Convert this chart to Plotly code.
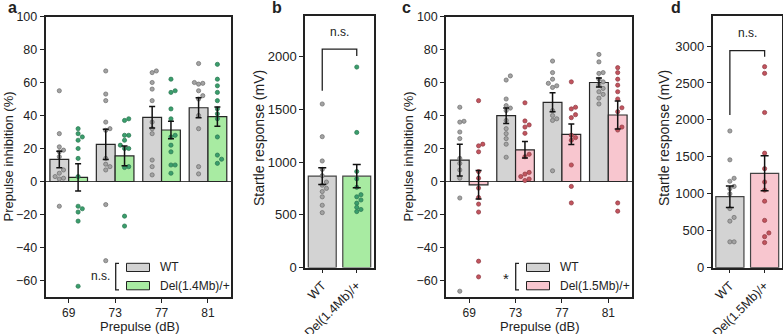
import plotly.graph_objects as go

W, H = 783, 334
FONT = "Liberation Sans, Arial, sans-serif"


def px(x):
    return x / W


def py(y):
    return 1 - y / H


# ---------------- data ----------------
prepulse = ["69", "73", "77", "81"]
geno_a = ["WT", "Del(1.4Mb)/+"]
geno_c = ["WT", "Del(1.5Mb)/+"]

# panel a : prepulse inhibition (%)
a_wt_mean = [13.4, 22.5, 38.9, 44.7]
a_wt_sem = [5.0, 9.2, 6.5, 6.0]
a_del_mean = [2.5, 15.5, 31.2, 39.3]
a_del_sem = [8.2, 6.0, 5.3, 5.8]
a_wt_69 = [55, 29, 21, 19, 18, 15, 7, 5, 3, 2, 1.5, -15]
a_wt_73 = [67, 53, 49, 36, 32, 31, 14, 10.5, 9, 7, -14, -48]
a_wt_77 = [67, 66, 60, 56, 49, 36, 32, 29, 13, 9, 4]
a_wt_81 = [71.5, 60, 59.5, 59, 55, 52, 50, 40, 32, 9, 4.6]
a_del_69 = [32, 29, 27, 25, 20, 14, 3, -15, -16.5, -18.5, -24, -63.5]
a_del_73 = [38, 37, 28, 28, 25, 22, 20, 20, 9, 8.5, -21, -27]
a_del_77 = [62, 55, 54, 44, 38, 28, 27, 22, 18, 10, 10, 5]
a_del_81 = [71, 62, 58, 54, 49, 44, 41, 38, 27, 16, 13.5, 11]

# panel b : startle response (mV)
b_mean = [866, 866]
b_sem = [79, 111]
b_wt = [1550, 1240, 1010, 930, 870, 810, 780, 750, 720, 670, 590, 520]
b_del = [1900, 1280, 910, 840, 760, 690, 670, 640, 610, 570, 550, 530]

# panel c : prepulse inhibition (%)
c_wt_mean = [13.0, 39.9, 48.0, 60.0]
c_wt_sem = [9.6, 4.7, 5.8, 2.7]
c_del_mean = [-2.0, 19.2, 28.6, 40.3]
c_del_sem = [8.6, 5.0, 6.2, 8.5]
c_wt_69 = [45, 36.5, 36, 30, 26, 14, 11, 7, 2, -10, -66.5]
c_wt_73 = [64, 61.5, 50, 46, 44.5, 43, 37, 32, 29, 26, 22.6, 14.7]
c_wt_77 = [73, 66, 62, 59.5, 58, 57, 43, 40, 38, 37, 6.5]
c_wt_81 = [77, 72.5, 66, 65.5, 62, 60.4, 58.4, 56.4, 54.4, 52.8, 50.5, 47]
c_del_69 = [49, 22.6, 21.6, 18, 6, 2, -4, -9.7, -13.7, -18.5, -48.3, -57.8]
c_del_73 = [47.7, 36.7, 34.3, 33, 29.2, 16.5, 15, 5.5, 4.5, 3, 1.5, 0.6]
c_del_77 = [60.4, 45, 44, 40.5, 38.7, 28, 26.6, 25, 10, -3, -13]
c_del_81 = [69, 66, 62, 58.4, 54.4, 50, 44.7, 42.3, 33, 31.2, -13, -18]

# panel d : startle response (mV)
d_mean = [961, 1277]
d_sem = [145, 237]
d_wt = [1850, 1460, 1210, 1170, 1100, 1070, 1000, 800, 680, 630, 350, 350]
d_del = [2720, 2630, 2100, 1550, 1340, 1160, 1050, 900, 640, 470, 420, 340]

# ---------------- styles ----------------
GRAY_BAR = "#d3d3d3"
GREEN_BAR = "#a8eba2"
PINK_BAR = "#f8c6cf"
BAR_LINE = "#262626"
GRAY_PT = dict(color="#a3a3a3", line=dict(color="#6b6b6b", width=0.7), size=4.2)
GREEN_PT = dict(color="#3a9e6c", line=dict(color="#2a7550", width=0.7), size=4.2)
PINK_PT = dict(color="#c2545e", line=dict(color="#8e3a42", width=0.7), size=4.2)


def swarm(vals, center, ppu_y, ppu_x, d=4.2):
    order = sorted(range(len(vals)), key=lambda i: vals[i])
    placed = []
    xs = [center] * len(vals)
    for i in order:
        yp = vals[i] * ppu_y
        off = 0.0
        for k in [0, 1, -1, 2, -2, 3, -3]:
            off = k * d
            if all((yp - a) ** 2 + (off - b) ** 2 >= d * d for a, b in placed):
                break
        placed.append((yp, off))
        xs[i] = center + off / ppu_x
    return xs


fig = go.Figure()

BW = 0.405  # bar width in group panels
OFF = 0.2025


def group_panel(xa, ya, wt_mean, wt_sem, del_mean, del_sem, wt_pts, del_pts,
                del_bar, del_pt):
    idx = list(range(len(prepulse)))
    xw = [i - OFF for i in idx]
    xd = [i + OFF for i in idx]
    fig.add_bar(x=xw, y=wt_mean, width=BW, xaxis=xa, yaxis=ya,
                marker=dict(color=GRAY_BAR, line=dict(color=BAR_LINE, width=1.2)),
                showlegend=False)
    fig.add_bar(x=xd, y=del_mean, width=BW, xaxis=xa, yaxis=ya,
                marker=dict(color=del_bar, line=dict(color=BAR_LINE, width=1.2)),
                showlegend=False)
    for i, pts in enumerate(wt_pts):
        fig.add_scatter(x=swarm(pts, xw[i], 1.65, 46.4), y=pts, mode="markers",
                        marker=GRAY_PT, xaxis=xa, yaxis=ya, showlegend=False)
    for i, pts in enumerate(del_pts):
        fig.add_scatter(x=swarm(pts, xd[i], 1.65, 46.4), y=pts, mode="markers",
                        marker=del_pt, xaxis=xa, yaxis=ya, showlegend=False)
    for xs, m, s in [(xw, wt_mean, wt_sem), (xd, del_mean, del_sem)]:
        fig.add_scatter(x=xs, y=m, mode="markers", marker=dict(size=1, opacity=0),
                        error_y=dict(type="data", array=s, color="#111111",
                                     thickness=1.5, width=3),
                        xaxis=xa, yaxis=ya, showlegend=False, hoverinfo="skip")


def pair_panel(xa, ya, mean, sem, wt_pts, del_pts, del_bar, del_pt, ppu_y):
    fig.add_bar(x=[0, 1], y=mean, width=0.81, xaxis=xa, yaxis=ya,
                marker=dict(color=[GRAY_BAR, del_bar], line=dict(color="#444444", width=1.2)),
                showlegend=False)
    fig.add_scatter(x=swarm(wt_pts, 0, ppu_y, 34.5), y=wt_pts, mode="markers",
                    marker=GRAY_PT, xaxis=xa, yaxis=ya, showlegend=False)
    fig.add_scatter(x=swarm(del_pts, 1, ppu_y, 34.5), y=del_pts, mode="markers",
                    marker=del_pt, xaxis=xa, yaxis=ya, showlegend=False)
    fig.add_scatter(x=[0, 1], y=mean, mode="markers", marker=dict(size=1, opacity=0),
                    error_y=dict(type="data", array=sem, color="#111111",
                                 thickness=1.5, width=4),
                    xaxis=xa, yaxis=ya, showlegend=False, hoverinfo="skip")


group_panel("x", "y", a_wt_mean, a_wt_sem, a_del_mean, a_del_sem,
            [a_wt_69, a_wt_73, a_wt_77, a_wt_81],
            [a_del_69, a_del_73, a_del_77, a_del_81], GREEN_BAR, GREEN_PT)
pair_panel("x2", "y2", b_mean, b_sem, b_wt, b_del, GREEN_BAR, GREEN_PT, 0.1055)
group_panel("x3", "y3", c_wt_mean, c_wt_sem, c_del_mean, c_del_sem,
            [c_wt_69, c_wt_73, c_wt_77, c_wt_81],
            [c_del_69, c_del_73, c_del_77, c_del_81], PINK_BAR, PINK_PT)
pair_panel("x4", "y4", d_mean, d_sem, d_wt, d_del, PINK_BAR, PINK_PT, 0.0739)

axis_common = dict(showline=True, mirror=True, linecolor="#222222", linewidth=1.5,
                   ticks="outside", ticklen=4, tickwidth=1, tickcolor="#222222",
                   showgrid=False, fixedrange=True)

fig.update_layout(
    width=W, height=H, autosize=False,
    margin=dict(l=0, r=0, t=0, b=0, pad=0, autoexpand=False),
    plot_bgcolor="white", paper_bgcolor="white", barmode="overlay",
    font=dict(family=FONT, color="#222222"),
    xaxis=dict(domain=[px(45.5), px(231.2)], range=[-0.5, 3.5], anchor="y",
               tickvals=[0, 1, 2, 3], ticktext=prepulse, zeroline=False,
               tickfont=dict(size=12), **axis_common),
    yaxis=dict(domain=[py(297), py(16.5)], range=[-70, 100], anchor="x",
               tickvals=[-60, -40, -20, 0, 20, 40, 60, 80, 100],
               zeroline=True, zerolinecolor="#444444", zerolinewidth=1,
               tickfont=dict(size=12.5), **axis_common),
    xaxis2=dict(domain=[px(305), px(374)], range=[-0.5, 1.5], anchor="y2",
                tickvals=[0, 1], ticktext=geno_a, tickangle=-45, zeroline=False,
                tickfont=dict(size=12.5), **axis_common),
    yaxis2=dict(domain=[py(267.5), py(16)], range=[0, 2384], anchor="x2",
                tickvals=[0, 500, 1000, 1500, 2000], zeroline=False,
                tickfont=dict(size=13), **axis_common),
    xaxis3=dict(domain=[px(446), px(631.5)], range=[-0.5, 3.5], anchor="y3",
                tickvals=[0, 1, 2, 3], ticktext=prepulse, zeroline=False,
                tickfont=dict(size=12), **axis_common),
    yaxis3=dict(domain=[py(297), py(16.5)], range=[-70, 100], anchor="x3",
                tickvals=[-60, -40, -20, 0, 20, 40, 60, 80, 100],
                zeroline=True, zerolinecolor="#444444", zerolinewidth=1,
                tickfont=dict(size=12.5), **axis_common),
    xaxis4=dict(domain=[px(712.5), px(782)], range=[-0.5, 1.5], anchor="y4",
                tickvals=[0, 1], ticktext=geno_c, tickangle=-45, zeroline=False,
                tickfont=dict(size=12.5), **axis_common),
    yaxis4=dict(domain=[py(267.7), py(16)], range=[0, 3406], anchor="x4",
                tickvals=[0, 500, 1000, 1500, 2000, 2500, 3000], zeroline=False,
                tickfont=dict(size=13), **axis_common),
)

shapes = []
annotations = []


def ann(text, x, y, size, **kw):
    d = dict(text=text, x=x, y=y, xref="paper", yref="paper", showarrow=False,
             font=dict(size=size, family=FONT, color="#222222"),
             xanchor="center", yanchor="middle")
    d.update(kw)
    annotations.append(d)


# panel letters
for letter, x in [("a", 12), ("b", 277), ("c", 406), ("d", 676)]:
    ann("<b>%s</b>" % letter, px(x), py(7), 16)

# axis titles
ann("Prepulse inhibition (%)", px(8), py(156.5), 13, textangle=-90)
ann("Prepulse inhibition (%)", px(408), py(156.5), 13, textangle=-90)
ann("Startle response (mV)", px(259), py(138), 14, textangle=-90)
ann("Startle response (mV)", px(664), py(138), 14, textangle=-90)
ann("Prepulse (dB)", px(139), py(326), 13)
ann("Prepulse (dB)", px(539.5), py(326), 13)

# in-plot legends for panels a and c
for dx, del_col, label, sig in [(0, GREEN_BAR, geno_a[1], "n.s."),
                                 (400, PINK_BAR, geno_c[1], "*")]:
    for (y0, y1), col, txt in [((263.3, 271.5), GRAY_BAR, geno_a[0]),
                              ((281.5, 289.8), del_col, label)]:
        shapes.append(dict(type="rect", xref="paper", yref="paper",
                           x0=px(126.5 + dx), x1=px(149.5 + dx), y0=py(y1), y1=py(y0),
                           fillcolor=col, line=dict(color="#222222", width=1)))
        ann(txt, px(158 + dx), py((y0 + y1) / 2), 12, xanchor="left")
    path = "M %f,%f L %f,%f L %f,%f L %f,%f" % (
        px(119 + dx), py(263.3), px(115.7 + dx), py(263.3),
        px(115.7 + dx), py(289.8), px(119 + dx), py(289.8))
    shapes.append(dict(type="path", xref="paper", yref="paper", path=path,
                       line=dict(color="#222222", width=1.3)))
    if sig == "*":
        ann(sig, px(105.5 + dx), py(278), 15)
    else:
        ann(sig, px(100.5 + dx), py(276), 12)

# significance brackets for b and d
for xr, yr, yl, ytop, yr_end, ytxt in [("x2", "y2", 1675, 2070, 2005, 2150),
                                       ("x4", "y4", 2066, 2937, 2855, 3060)]:
    shapes.append(dict(type="path", xref=xr, yref=yr,
                       path="M 0,%g L 0,%g L 1,%g L 1,%g" % (yl, ytop, ytop, yr_end),
                       line=dict(color="#222222", width=1.3)))
    annotations.append(dict(text="n.s.", x=0.5, y=ytxt, xref=xr, yref=yr,
                            showarrow=False, yanchor="bottom",
                            font=dict(size=12, family=FONT, color="#222222")))

fig.update_layout(shapes=shapes, annotations=annotations)
fig.write_html(
    "out.html",
    config={"displayModeBar": False, "responsive": False},
    post_script=(
        "document.documentElement.style.margin='0';"
        "document.body.style.margin='0';document.body.style.padding='0';"
        "document.body.style.overflow='hidden';"
        "var gd=document.getElementById('{plot_id}');"
        "gd.style.width='783px';gd.style.height='334px';"
        "Plotly.relayout(gd,{width:783,height:334});"
    ),
)
